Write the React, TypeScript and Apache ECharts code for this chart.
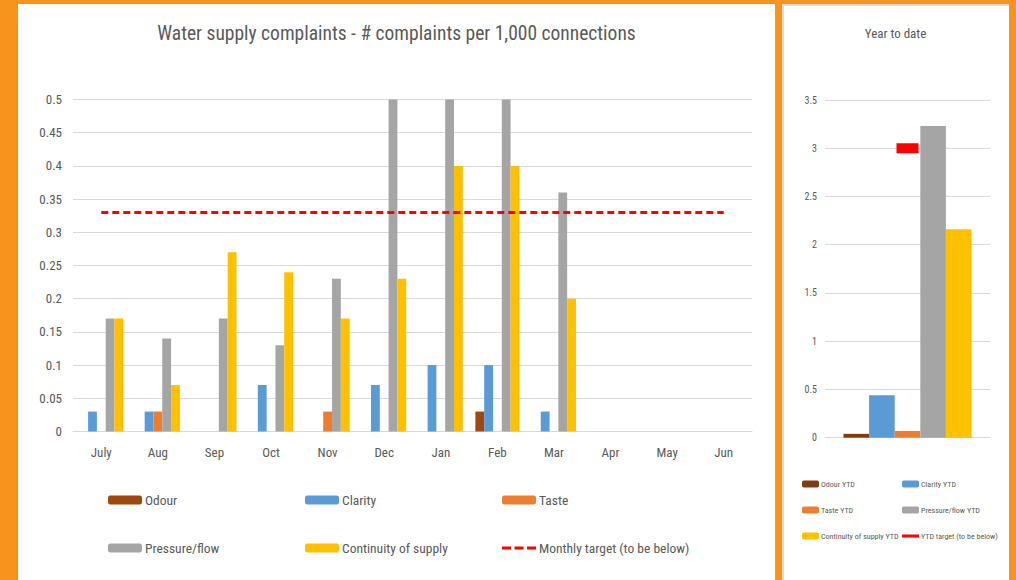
import React, { useEffect, useRef } from 'react';
import * as echarts from 'echarts';

const months = ['July', 'Aug', 'Sep', 'Oct', 'Nov', 'Dec', 'Jan', 'Feb', 'Mar', 'Apr', 'May', 'Jun'];
const odour = [null, null, null, null, null, null, null, 0.03, null, null, null, null];
const clarity = [0.03, 0.03, null, 0.07, null, 0.07, 0.1, 0.1, 0.03, null, null, null];
const taste = [null, 0.03, null, null, 0.03, null, null, null, null, null, null, null];
const pressure = [0.17, 0.14, 0.17, 0.13, 0.23, 0.5, 0.5, 0.5, 0.36, null, null, null];
const continuity = [0.17, 0.07, 0.27, 0.24, 0.17, 0.23, 0.4, 0.4, 0.2, null, null, null];
const monthlyTarget = [0.33, 0.33, 0.33, 0.33, 0.33, 0.33, 0.33, 0.33, 0.33, 0.33, 0.33, 0.33];

const ytdCategory = ['YTD'];
const odourYTD = [0.04];
const clarityYTD = [0.44];
const tasteYTD = [0.07];
const pressureYTD = [3.23];
const continuityYTD = [2.16];
const ytdTarget = [3];

const FONT = '"Roboto Condensed", "DejaVu Sans Condensed", sans-serif';
const TXT = '#595959';
const GRID = '#D9D9D9';

const C = {
  odour: '#9E480E',
  odourYTD: '#843C0C',
  clarity: '#5B9BD5',
  taste: '#ED7D31',
  pressure: '#A5A5A5',
  continuity: '#FFC000',
  red: '#FF0000',
};

const DASH_ICON = 'path://M0 0H9V3H0Z M12.5 0H21.5V3H12.5Z M25 0H34V3H25Z';

function legendItem(name: string, left: number, top: number, w: number, h: number, fontSize: number, gapFix: number, icon?: string) {
  return {
    left,
    top,
    padding: 0,
    itemWidth: w,
    itemHeight: h,
    itemGap: 0,
    icon,
    data: [name],
    selectedMode: false,
    textStyle: { color: TXT, fontFamily: FONT, fontSize, padding: [0, 0, 0, gapFix] },
  };
}

export default function App() {
  const ref = useRef<HTMLDivElement>(null);
  useEffect(() => {
    if (!ref.current) return;
    const chart = echarts.init(ref.current, null, { renderer: 'svg' });
    const barBase = { type: 'bar', barWidth: 8.8, barGap: '0%', xAxisIndex: 0, yAxisIndex: 0 };
    const ytdBase = { type: 'bar', barWidth: 25.6, barGap: '0%', xAxisIndex: 1, yAxisIndex: 1 };
    const option: any = {
      animation: false,
      backgroundColor: 'transparent',
      textStyle: { fontFamily: FONT },
      graphic: [
        {
          type: 'text',
          x: 396.5,
          y: 33,
          style: { text: 'Water supply complaints - # complaints per 1,000 connections', fill: TXT, font: `19.5px ${FONT}`, textAlign: 'center', textVerticalAlign: 'middle' },
        },
        {
          type: 'text',
          x: 895.5,
          y: 33,
          style: { text: 'Year to date', fill: TXT, font: `13px ${FONT}`, textAlign: 'center', textVerticalAlign: 'middle' },
        },
      ],
      grid: [
        { left: 73, right: 264, top: 99.5, bottom: 148.5 },
        { left: 825, right: 26, top: 100, bottom: 142.3 },
      ],
      xAxis: [
        {
          type: 'category',
          gridIndex: 0,
          data: months,
          axisTick: { show: false },
          axisLine: { lineStyle: { color: GRID, width: 1 } },
          axisLabel: { color: TXT, fontSize: 13, fontFamily: FONT, margin: 14 },
        },
        {
          type: 'category',
          gridIndex: 1,
          data: ytdCategory,
          axisTick: { show: false },
          axisLine: { lineStyle: { color: GRID, width: 1 } },
          axisLabel: { show: false },
        },
      ],
      yAxis: [
        {
          type: 'value',
          gridIndex: 0,
          min: 0,
          max: 0.5,
          interval: 0.05,
          axisLine: { show: false },
          axisTick: { show: false },
          splitLine: { lineStyle: { color: GRID, width: 1 } },
          axisLabel: { color: TXT, fontSize: 13, fontFamily: FONT, margin: 11 },
        },
        {
          type: 'value',
          gridIndex: 1,
          min: 0,
          max: 3.5,
          interval: 0.5,
          axisLine: { show: false },
          axisTick: { show: false },
          splitLine: { lineStyle: { color: GRID, width: 1 } },
          axisLabel: { color: TXT, fontSize: 10, fontFamily: FONT, margin: 8 },
        },
      ],
      legend: [
        legendItem('Odour', 108, 493, 34, 9, 13.5, -2),
        legendItem('Clarity', 305, 493, 34, 9, 13.5, -2),
        legendItem('Taste', 502, 493, 34, 9, 13.5, -2),
        legendItem('Pressure/flow', 108, 541, 34, 9, 13.5, -2),
        legendItem('Continuity of supply', 305, 541, 34, 9, 13.5, -2),
        legendItem('Monthly target (to be below)', 502, 541, 34, 3, 13.5, -2, DASH_ICON),
        legendItem('Odour YTD', 802, 480, 17, 7, 8, -3),
        legendItem('Clarity YTD', 902, 480, 17, 7, 8, -3),
        legendItem('Taste YTD', 802, 506, 17, 7, 8, -3),
        legendItem('Pressure/flow YTD', 902, 506, 17, 7, 8, -3),
        legendItem('Continuity of supply YTD', 802, 532, 17, 7, 8, -3),
        legendItem('YTD target (to be below)', 902, 532, 17, 3, 8, -3, 'rect'),
      ],
      series: [
        { ...barBase, name: 'Odour', data: odour, itemStyle: { color: C.odour } },
        { ...barBase, name: 'Clarity', data: clarity, itemStyle: { color: C.clarity } },
        { ...barBase, name: 'Taste', data: taste, itemStyle: { color: C.taste } },
        { ...barBase, name: 'Pressure/flow', data: pressure, itemStyle: { color: C.pressure } },
        { ...barBase, name: 'Continuity of supply', data: continuity, itemStyle: { color: C.continuity } },
        {
          type: 'line',
          name: 'Monthly target (to be below)',
          xAxisIndex: 0,
          yAxisIndex: 0,
          data: monthlyTarget,
          symbol: 'none',
          itemStyle: { color: C.red },
          lineStyle: { color: C.red, width: 3, type: [7, 4] },
          z: 5,
        },
        { ...ytdBase, name: 'Odour YTD', data: odourYTD, itemStyle: { color: C.odourYTD } },
        { ...ytdBase, name: 'Clarity YTD', data: clarityYTD, itemStyle: { color: C.clarity } },
        { ...ytdBase, name: 'Taste YTD', data: tasteYTD, itemStyle: { color: C.taste } },
        { ...ytdBase, name: 'Pressure/flow YTD', data: pressureYTD, itemStyle: { color: C.pressure } },
        { ...ytdBase, name: 'Continuity of supply YTD', data: continuityYTD, itemStyle: { color: C.continuity } },
        {
          type: 'scatter',
          name: 'YTD target (to be below)',
          xAxisIndex: 1,
          yAxisIndex: 1,
          data: ytdTarget,
          symbol: 'rect',
          symbolSize: [22, 10],
          itemStyle: { color: C.red, opacity: 1 },
          z: 5,
        },
      ],
    };
    chart.setOption(option);
    return () => chart.dispose();
  }, []);

  return (
    <div style={{ position: 'fixed', left: 0, top: 0, width: 1016, height: 580, background: '#F7941D', overflow: 'hidden' }}>
      <div style={{ position: 'absolute', left: 18, top: 4, width: 757, height: 576, background: '#FFFFFF' }} />
      <div style={{ position: 'absolute', left: 782, top: 4, width: 225, height: 576, background: '#FFFFFF', borderLeft: '2px solid #DCDCDC', borderTop: '2px solid #DCDCDC' }} />
      <div ref={ref} style={{ position: 'absolute', left: 0, top: 0, width: 1016, height: 580 }} />
    </div>
  );
}
